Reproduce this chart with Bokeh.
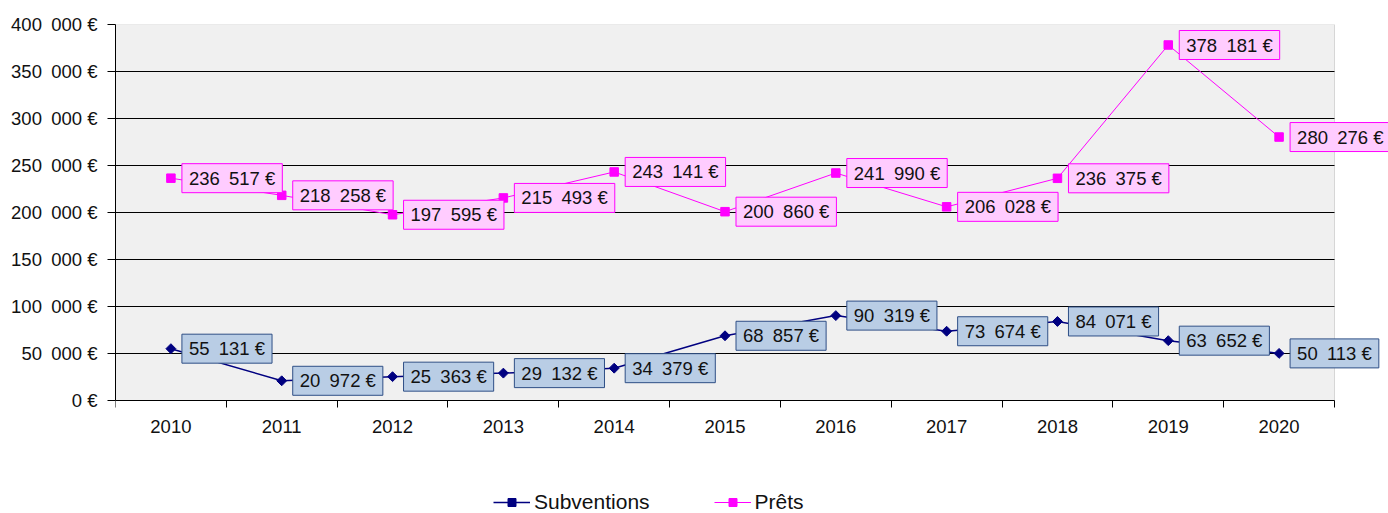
import math
from bokeh.plotting import figure
from bokeh.models import Range1d, FixedTicker, Label, Legend, LegendItem, ColumnDataSource, BoxAnnotation
from bokeh.embed import file_html
from bokeh.resources import INLINE

years = ["2010", "2011", "2012", "2013", "2014", "2015", "2016", "2017", "2018", "2019", "2020"]
subventions = [55131, 20972, 25363, 29132, 34379, 68857, 90319, 73674, 84071, 63652, 50113]
prets = [236517, 218258, 197595, 215493, 243141, 200860, 241990, 206028, 236375, 378181, 280276]
yticks = [0, 50000, 100000, 150000, 200000, 250000, 300000, 350000, 400000]

FONT = "Liberation Sans"
N = len(years)
YMAX = yticks[-1]


def fmt(v):
    return f"{v:,}".replace(",", "\u2002") + " €"


xs = [i + 0.5 for i in range(N)]
src = ColumnDataSource(dict(x=xs, sub=subventions, pre=prets))
grid_src = ColumnDataSource(dict(x0=[0] * (len(yticks) - 2), x1=[N] * (len(yticks) - 2), y=yticks[1:-1]))

# the frame fills the canvas to the right and bottom so that the last data label
# and the legend (drawn inside the frame) are not clipped; the plot area is 0..N x 0..YMAX
p = figure(width=1388, height=513, output_backend="svg", toolbar_location=None,
           x_range=Range1d(0, N * 1273 / 1219), y_range=Range1d(-YMAX * 113 / 376, YMAX),
           min_border_left=115, min_border_right=0, min_border_top=24, min_border_bottom=0)
p.background_fill_color = "white"
p.border_fill_color = "white"
p.outline_line_color = None

# plot area (grey panel with grey border)
p.add_layout(BoxAnnotation(left=0, right=N, bottom=0, top=YMAX, fill_color="#f0f0f0", fill_alpha=1,
                           line_color="#8c8c8c", line_width=1, level="image"))

# x axis at y = 0: labels at category centres, tick marks at category boundaries
p.xaxis.fixed_location = 0
p.xaxis.ticker = FixedTicker(ticks=xs, minor_ticks=list(range(N + 1)))
p.xaxis.major_label_overrides = {x: y for x, y in zip(xs, years)}
p.xaxis.bounds = (0, N)
p.xaxis.major_tick_line_color = None
p.xaxis.major_tick_out = 0
p.xaxis.major_tick_in = 0
p.xaxis.minor_tick_line_color = "black"
p.xaxis.minor_tick_out = 7
p.xaxis.minor_tick_in = 0
p.xaxis.major_label_standoff = 12
p.xaxis.axis_line_color = "black"

p.yaxis.ticker = FixedTicker(ticks=yticks)
p.yaxis.major_label_overrides = {t: fmt(t) for t in yticks}
p.yaxis.bounds = (0, YMAX)
p.yaxis.major_tick_out = 8
p.yaxis.major_tick_in = 0
p.yaxis.minor_tick_line_color = None
p.yaxis.major_label_standoff = 10
p.yaxis.axis_line_color = "black"

for ax in (p.xaxis, p.yaxis):
    ax.major_label_text_font = FONT
    ax.major_label_text_font_size = "18.5px"
    ax.major_label_text_color = "#111111"

p.xgrid.grid_line_color = None
p.ygrid.grid_line_color = None
p.segment(x0="x0", x1="x1", y0="y", y1="y", source=grid_src, line_color="black", line_width=1)

r1 = p.line("x", "sub", source=src, color="#000080", line_width=1.5)
m1 = p.scatter("x", "sub", source=src, marker="square", angle=math.pi / 4, size=7, color="#000080")
r2 = p.line("x", "pre", source=src, color="#ff00ff", line_width=1)
m2 = p.scatter("x", "pre", source=src, marker="square", size=8.5, color="#ff00ff")

pad = {"left": 7, "right": 7, "top": 4, "bottom": 4}
for x, v in zip(xs, subventions):
    p.add_layout(Label(x=x, y=v, text=fmt(v), x_offset=11, text_baseline="middle", text_align="left",
                       text_font=FONT, text_font_size="18.5px", text_color="#111111",
                       background_fill_color="#b9cde5", border_line_color="#2f4f86", border_line_width=1,
                       padding=pad))
for x, v in zip(xs, prets):
    p.add_layout(Label(x=x, y=v, text=fmt(v), x_offset=11, text_baseline="middle", text_align="left",
                       text_font=FONT, text_font_size="18.5px", text_color="#111111",
                       background_fill_color="#ffccff", border_line_color="#ff00ff", border_line_width=1,
                       padding=pad))

legend = Legend(items=[LegendItem(label="Subventions", renderers=[r1, m1]),
                       LegendItem(label="Prêts", renderers=[r2, m2])],
                orientation="horizontal", location=(378, -1),
                label_text_font=FONT, label_text_font_size="21px", label_text_color="#111111",
                glyph_width=37, glyph_height=20, label_height=20, label_standoff=4, spacing=64,
                padding=0, margin=0, border_line_color=None, background_fill_alpha=0)
p.add_layout(legend)

open("out.html", "w").write(file_html(p, INLINE))
